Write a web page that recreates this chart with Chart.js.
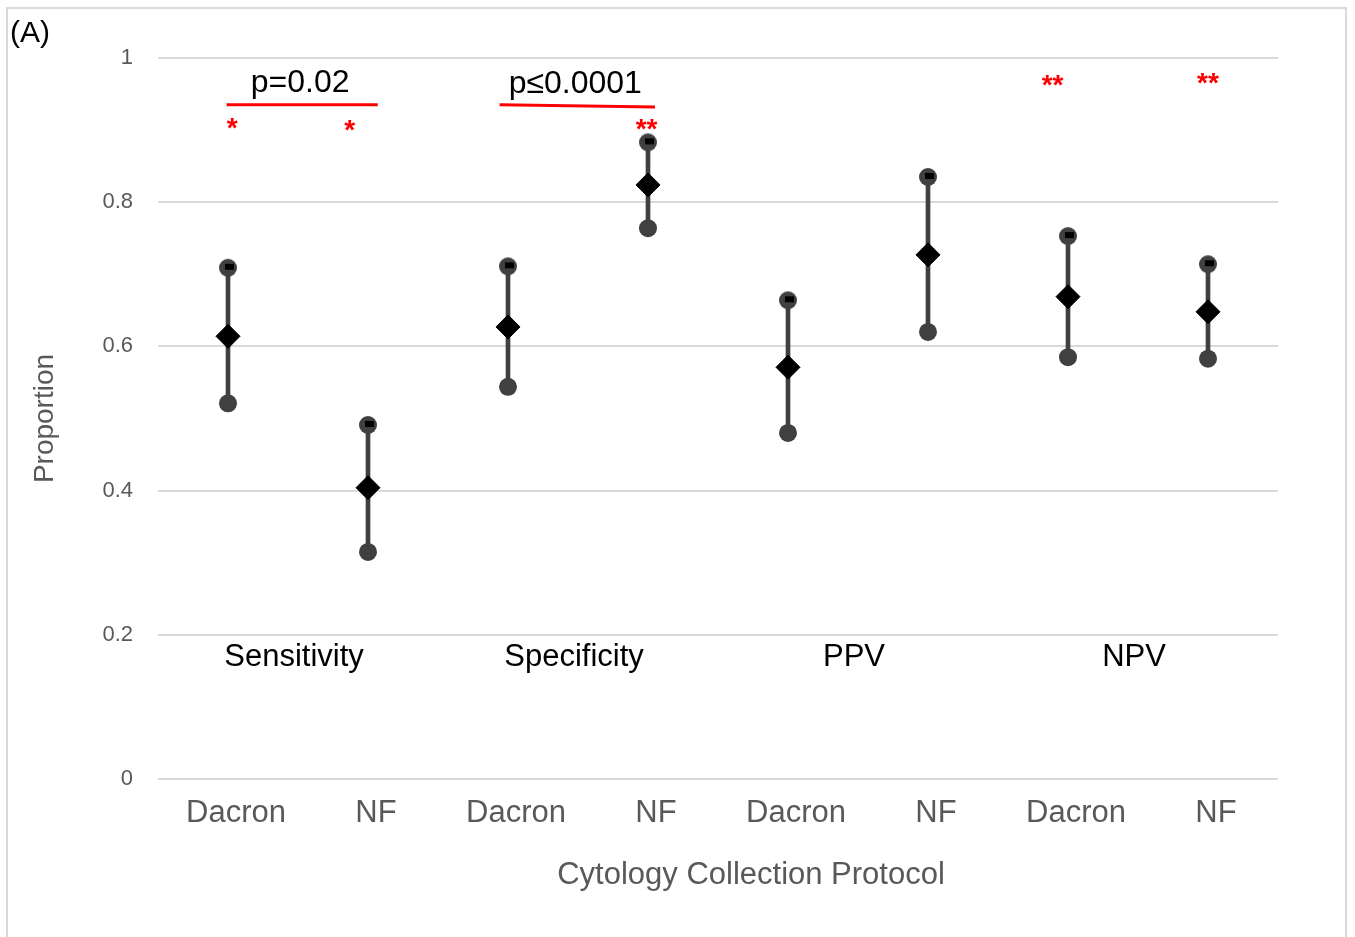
<!DOCTYPE html>
<html>
<head>
<meta charset="utf-8">
<script src="https://cdn.jsdelivr.net/npm/chart.js@4.4.1/dist/chart.umd.min.js"></script>
<style>
  html, body { margin: 0; padding: 0; background: #fff; overflow: hidden; }
  #wrap { position: relative; width: 1355px; height: 937px; }
  #frame { position: absolute; left: 6px; top: 7px; width: 1337px; height: 940px;
           border: 2px solid #dadada; pointer-events: none; }
</style>
</head>
<body>
<div id="wrap">
  <canvas id="ciChart"></canvas>
  <div id="frame"></div>
</div>
<script>
// proportions with 95% CI
const labels = ["Dacron", "NF", "Dacron", "NF", "Dacron", "NF", "Dacron", "NF"];
const groupNames = ["Sensitivity", "Specificity", "PPV", "NPV"];
const upperCI = [0.709, 0.491, 0.711, 0.883, 0.664, 0.835, 0.753, 0.714];
const meanVal = [0.614, 0.404, 0.627, 0.824, 0.571, 0.727, 0.669, 0.648];
const lowerCI = [0.521, 0.315, 0.544, 0.764, 0.480, 0.620, 0.585, 0.583];
const yTicks = [0, 0.2, 0.4, 0.6, 0.8, 1];

// comparison brackets: [from index, to index, y start, y end, text, text y]
const brackets = [
    [-0.01, 1.07, 0.935, 0.935, "p=0.02", 0.965],
    [1.94, 3.05, 0.935, 0.932, "p\u22640.0001", 0.964]
];
// significance stars: [index, y, text]
const stars = [
    [0.03, 0.910, "*"],
    [0.87, 0.906, "*"],
    [2.99, 0.908, "**"],
    [5.89, 0.969, "**"],
    [7.0, 0.972, "**"]
];
const groupLabelY = 0.168;

const GREY = "#404040";
const FONT = "'Liberation Sans', Arial, sans-serif";

// upper CI marker: grey dot with a small black bar in it
function upperMarker() {
    const c = document.createElement("canvas");
    c.width = 20; c.height = 20;
    const g = c.getContext("2d");
    g.fillStyle = GREY;
    g.beginPath();
    g.arc(10, 10, 9, 0, Math.PI * 2);
    g.fill();
    g.fillStyle = "#000";
    g.fillRect(7, 6, 9, 6);
    return c;
}

const annotations = {
    id: "annotations",
    afterDatasetsDraw(chart) {
        const ctx = chart.ctx;
        const x = chart.scales.x, y = chart.scales.y;
        ctx.save();
        ctx.textAlign = "center";
        ctx.textBaseline = "middle";

        // group names between each Dacron / NF pair
        ctx.fillStyle = "#000";
        ctx.font = "31px " + FONT;
        groupNames.forEach((name, i) => {
            const px = (x.getPixelForValue(2 * i) + x.getPixelForValue(2 * i + 1)) / 2;
            ctx.fillText(name, px - 4, y.getPixelForValue(groupLabelY));
        });

        // red brackets with p values
        brackets.forEach(b => {
            const x1 = x.getPixelForValue(b[0]), x2 = x.getPixelForValue(b[1]);
            ctx.strokeStyle = "#ff0000";
            ctx.lineWidth = 3;
            ctx.beginPath();
            ctx.moveTo(x1, y.getPixelForValue(b[2]));
            ctx.lineTo(x2, y.getPixelForValue(b[3]));
            ctx.stroke();
            ctx.fillStyle = "#000";
            ctx.font = "32px " + FONT;
            ctx.fillText(b[4], (x1 + x2) / 2 - 2, y.getPixelForValue(b[5]));
        });

        // asterisks (glyph sits high in the em box, so push down a bit)
        ctx.fillStyle = "#ff0000";
        ctx.font = "bold 28px " + FONT;
        stars.forEach(s => {
            ctx.fillText(s[2], x.getPixelForValue(s[0]), y.getPixelForValue(s[1]) + 6);
        });

        // x axis title (sits right of centre in the original)
        ctx.fillStyle = "#595959";
        ctx.font = "31px " + FONT;
        ctx.fillText("Cytology Collection Protocol", 751, 875);

        // panel letter
        ctx.textAlign = "left";
        ctx.fillStyle = "#000";
        ctx.font = "30px " + FONT;
        ctx.fillText("(A)", 10, 34);
        ctx.restore();
    }
};

new Chart(document.getElementById("ciChart"), {
    type: "bar",
    data: {
        labels: labels,
        datasets: [
            {
                type: "line",
                data: meanVal,
                showLine: false,
                pointStyle: "rectRot",
                pointRadius: 12,
                pointBackgroundColor: "#000",
                pointBorderColor: "#000",
                pointBorderWidth: 1,
                order: 1
            },
            {
                type: "line",
                data: upperCI,
                showLine: false,
                pointStyle: upperMarker(),
                pointRadius: 9,
                order: 2
            },
            {
                type: "line",
                data: lowerCI,
                showLine: false,
                pointStyle: "circle",
                pointRadius: 9,
                pointBackgroundColor: GREY,
                pointBorderColor: GREY,
                pointBorderWidth: 0,
                order: 2
            },
            {   // CI whiskers as floating bars
                data: labels.map((_, i) => [lowerCI[i], upperCI[i]]),
                backgroundColor: GREY,
                barThickness: 4,
                borderWidth: 0,
                order: 3
            }
        ]
    },
    options: {
        responsive: true,
        maintainAspectRatio: false,
        animation: false,
        layout: { padding: { left: 0, right: 77, top: 58, bottom: 0 } },
        plugins: {
            legend: { display: false },
            tooltip: { enabled: false }
        },
        scales: {
            x: {
                offset: true,
                grid: { display: false, drawTicks: false },
                border: { display: false },
                ticks: {
                    color: "#595959",
                    font: { family: FONT, size: 31 },
                    padding: 16,
                    labelOffset: 8,
                    maxRotation: 0,
                    autoSkip: false
                },
                afterFit(scale) { scale.height = 158; }
            },
            y: {
                min: 0,
                max: 1,
                afterBuildTicks(scale) { scale.ticks = yTicks.map(v => ({ value: v })); },
                grid: { color: "#d9d9d9", lineWidth: 2, drawTicks: false },
                border: { display: false },
                ticks: {
                    color: "#595959",
                    font: { family: FONT, size: 22 },
                    padding: 25,
                    callback: v => String(v)
                },
                title: {
                    display: true,
                    text: "Proportion",
                    color: "#595959",
                    font: { family: FONT, size: 28 },
                    padding: { top: 28, bottom: 0 }
                },
                afterFit(scale) { scale.width = 158; }
            }
        }
    },
    plugins: [annotations]
});
</script>
</body>
</html>
